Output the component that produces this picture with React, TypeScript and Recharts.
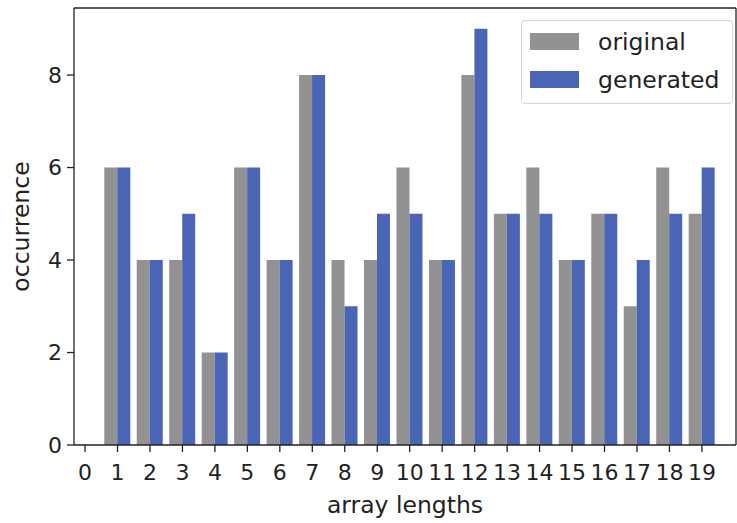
import { BarChart, Bar, XAxis, YAxis, Legend, ReferenceLine } from "recharts";

const lengths = [0, 1, 2, 3, 4, 5, 6, 7, 8, 9, 10, 11, 12, 13, 14, 15, 16, 17, 18, 19];
const original = [0, 6, 4, 4, 2, 6, 4, 8, 4, 4, 6, 4, 8, 5, 6, 4, 5, 3, 6, 5];
const generated = [0, 6, 4, 5, 2, 6, 4, 8, 3, 5, 5, 4, 9, 5, 5, 4, 5, 4, 5, 6];
const yTicks = [0, 2, 4, 6, 8];

const GREY = "#929292";
const BLUE = "#4a65b5";
const FONT = "DejaVu Sans";

const data = lengths.map((len, i) => ({
  length: len,
  original: original[i],
  generated: generated[i],
}));

const tickStyle = { fontSize: 22, fill: "#222", fontFamily: FONT };
const labelStyle = { fontSize: 23.5, fill: "#222", fontFamily: FONT };

function LegendBox() {
  const rows = [
    { name: "original", color: GREY },
    { name: "generated", color: BLUE },
  ];
  return (
    <div
      style={{
        position: "relative",
        width: 212,
        height: 84,
        boxSizing: "border-box",
        border: "1px solid #d4d4d4",
        borderRadius: 4,
        background: "rgba(255,255,255,0.8)",
        fontFamily: FONT,
        fontSize: 23.5,
        color: "#222",
      }}
    >
      {rows.map((r, i) => (
        <div
          key={r.name}
          style={{
            position: "absolute",
            left: 8,
            top: 1 + i * 38,
            height: 38,
            display: "flex",
            alignItems: "center",
          }}
        >
          <span style={{ width: 49, height: 17, background: r.color, display: "inline-block" }} />
          <span style={{ marginLeft: 19, lineHeight: "23px", position: "relative", top: 1, whiteSpace: "nowrap" }}>
            {r.name}
          </span>
        </div>
      ))}
    </div>
  );
}

export default function App() {
  return (
    <div style={{ position: "absolute", left: 0, top: 0, width: 737, height: 523, background: "#fff" }}>
      <BarChart
        width={737}
        height={523}
        data={data}
        margin={{ top: 8, right: 1, left: 0, bottom: 0 }}
        barGap={0}
      >
        <XAxis
          dataKey="length"
          type="number"
          domain={[-0.34, 20.05]}
          ticks={lengths}
          interval={0}
          allowDataOverflow
          height={78}
          tickSize={7}
          tickMargin={12}
          tick={tickStyle}
          axisLine={{ stroke: "#222", strokeWidth: 1.3 }}
          tickLine={{ stroke: "#222", strokeWidth: 1.3 }}
          label={{
            value: "array lengths",
            position: "insideBottom",
            offset: 10,
            style: labelStyle,
          }}
        />
        <YAxis
          type="number"
          domain={[0, 9.45]}
          ticks={yTicks}
          allowDataOverflow
          width={74}
          tickSize={7}
          tickMargin={5}
          tick={tickStyle}
          axisLine={{ stroke: "#222", strokeWidth: 1.3 }}
          tickLine={{ stroke: "#222", strokeWidth: 1.3 }}
          label={{
            value: "occurrence",
            angle: -90,
            position: "insideLeft",
            offset: 21,
            style: { ...labelStyle, textAnchor: "middle" },
          }}
        />
        <ReferenceLine y={9.45} stroke="#222" strokeWidth={1.3} ifOverflow="visible" />
        <ReferenceLine x={20.05} stroke="#222" strokeWidth={1.3} ifOverflow="visible" />
        <Legend
          layout="horizontal"
          verticalAlign="middle"
          align="center"
          wrapperStyle={{ position: "absolute", left: 521, top: 20, width: 212 }}
          content={() => <LegendBox />}
        />
        <Bar dataKey="original" fill={GREY} barSize={13} isAnimationActive={false} />
        <Bar dataKey="generated" fill={BLUE} barSize={13} isAnimationActive={false} />
      </BarChart>
    </div>
  );
}
